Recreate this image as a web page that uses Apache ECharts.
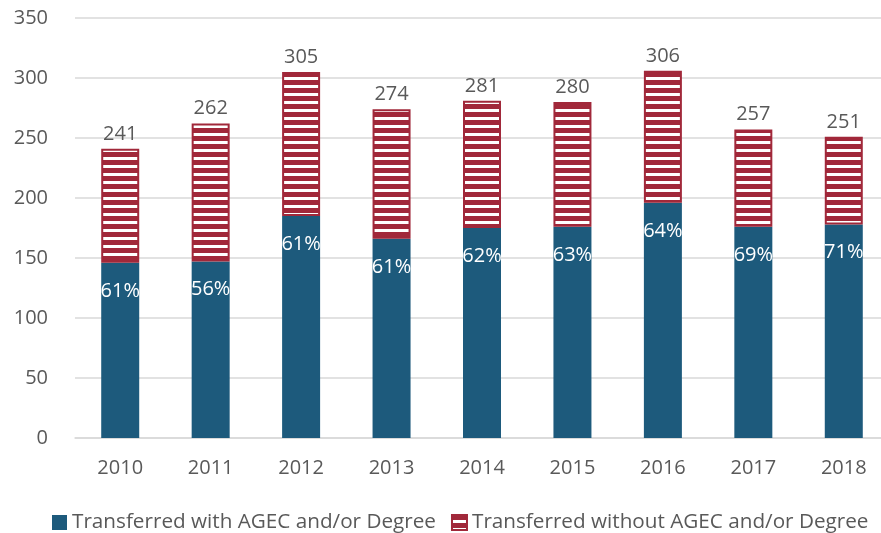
<!DOCTYPE html>
<html style="height:100%">
<head>
    <meta charset="UTF-8">
    <title>Transfers</title>
    <script src="https://cdn.jsdelivr.net/npm/echarts@6/dist/echarts.min.js"></script>
</head>
<body style="height:100%;margin:0;overflow:hidden">
    <div id="main" style="width:900px;height:533px"></div>
    <script>
        var years = ['2010', '2011', '2012', '2013', '2014', '2015', '2016', '2017', '2018'];
        var withAgec = [146, 147, 185, 166, 175, 176, 196, 176, 178];
        var withoutAgec = [95, 115, 120, 108, 106, 104, 110, 81, 73];
        var pctLabels = ['61%', '56%', '61%', '61%', '62%', '63%', '64%', '69%', '71%'];

        var blue = '#1d5a7c';
        var red = '#a1283a';
        var grey = '#595959';

        // red with white horizontal stripes
        var stripe = document.createElement('canvas');
        stripe.width = 8;
        stripe.height = 8;
        var ctx = stripe.getContext('2d');
        ctx.fillStyle = red;
        ctx.fillRect(0, 0, 8, 8);
        ctx.fillStyle = '#ffffff';
        ctx.fillRect(0, 5, 8, 3);

        var chart = echarts.init(document.getElementById('main'), null, { renderer: 'canvas' });
        var option = {
            backgroundColor: '#ffffff',
            animation: false,
            textStyle: { fontFamily: 'Open Sans' },
            grid: { left: 75, top: 18, right: 11, bottom: 95, containLabel: false },
            legend: {
                top: 512,
                left: 52,
                padding: 0,
                itemWidth: 15,
                itemHeight: 15,
                itemGap: 15,
                textStyle: { color: grey, fontSize: 20.7, fontFamily: 'Open Sans' },
                data: [
                    { name: 'Transferred with AGEC and/or Degree', icon: 'rect' },
                    { name: 'Transferred without AGEC and/or Degree', icon: 'rect' }
                ]
            },
            xAxis: {
                type: 'category',
                data: years,
                axisTick: { show: false },
                axisLine: { lineStyle: { color: '#d9d9d9', width: 1.5 } },
                axisLabel: { color: grey, fontSize: 20, margin: 20 }
            },
            yAxis: {
                type: 'value',
                min: 0,
                max: 350,
                interval: 50,
                axisLabel: { color: grey, fontSize: 20, margin: 27 },
                splitLine: { lineStyle: { color: '#d9d9d9', width: 1.5 } }
            },
            series: [
                {
                    name: 'Transferred with AGEC and/or Degree',
                    type: 'bar',
                    stack: 'total',
                    barWidth: 38,
                    data: withAgec,
                    itemStyle: { color: blue },
                    label: {
                        show: true,
                        position: 'insideTop',
                        distance: 18,
                        color: '#ffffff',
                        fontSize: 20,
                        fontFamily: 'Open Sans',
                        formatter: function (p) { return pctLabels[p.dataIndex]; }
                    }
                },
                {
                    name: 'Transferred without AGEC and/or Degree',
                    type: 'bar',
                    stack: 'total',
                    barWidth: 38,
                    data: withoutAgec,
                    itemStyle: {
                        color: { image: stripe, repeat: 'repeat' },
                        borderColor: red,
                        borderWidth: 2
                    },
                    label: {
                        show: true,
                        position: 'top',
                        distance: 5,
                        color: grey,
                        fontSize: 20,
                        fontFamily: 'Open Sans',
                        formatter: function (p) { return withAgec[p.dataIndex] + withoutAgec[p.dataIndex]; }
                    }
                }
            ]
        };
        chart.setOption(option);
    </script>
</body>
</html>
